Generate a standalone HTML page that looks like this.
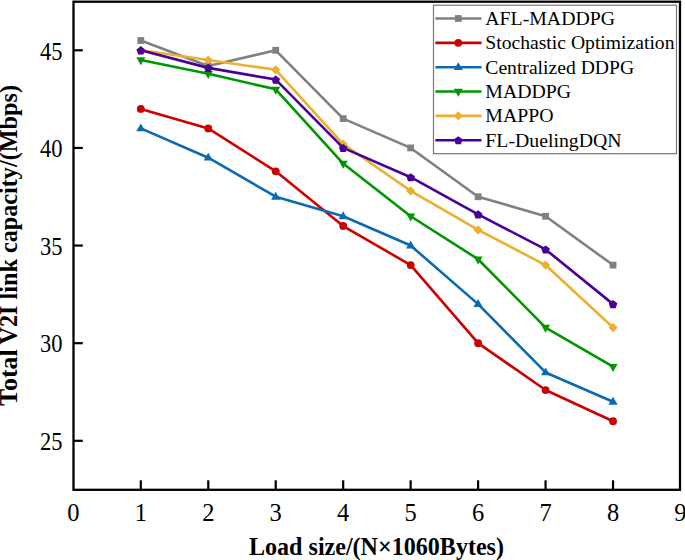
<!DOCTYPE html>
<html><head><meta charset="utf-8"><style>
html,body{margin:0;padding:0;background:#fff;}
body{width:685px;height:560px;overflow:hidden;}
svg{display:block;}
text{font-family:"Liberation Serif",serif;fill:#000;}
</style></head><body>
<svg width="685" height="560" viewBox="0 0 685 560">
<rect width="685" height="560" fill="#fff"/>
<polyline points="140.81,40.54 208.27,65.92 275.73,50.30 343.19,118.64 410.65,147.93 478.11,196.74 545.57,216.26 613.03,265.07" fill="none" stroke="#808080" stroke-width="2.6" stroke-linejoin="round" stroke-linecap="round"/>
<rect x="137.41" y="37.14" width="6.8" height="6.8" fill="#808080"/>
<rect x="204.87" y="62.52" width="6.8" height="6.8" fill="#808080"/>
<rect x="272.33" y="46.90" width="6.8" height="6.8" fill="#808080"/>
<rect x="339.79" y="115.24" width="6.8" height="6.8" fill="#808080"/>
<rect x="407.25" y="144.53" width="6.8" height="6.8" fill="#808080"/>
<rect x="474.71" y="193.34" width="6.8" height="6.8" fill="#808080"/>
<rect x="542.17" y="212.86" width="6.8" height="6.8" fill="#808080"/>
<rect x="609.63" y="261.68" width="6.8" height="6.8" fill="#808080"/>
<polyline points="140.81,108.88 208.27,128.40 275.73,171.36 343.19,226.02 410.65,265.07 478.11,343.18 545.57,390.03 613.03,421.27" fill="none" stroke="#cc0000" stroke-width="2.6" stroke-linejoin="round" stroke-linecap="round"/>
<circle cx="140.81" cy="108.88" r="3.9" fill="#cc0000"/>
<circle cx="208.27" cy="128.40" r="3.9" fill="#cc0000"/>
<circle cx="275.73" cy="171.36" r="3.9" fill="#cc0000"/>
<circle cx="343.19" cy="226.02" r="3.9" fill="#cc0000"/>
<circle cx="410.65" cy="265.07" r="3.9" fill="#cc0000"/>
<circle cx="478.11" cy="343.18" r="3.9" fill="#cc0000"/>
<circle cx="545.57" cy="390.03" r="3.9" fill="#cc0000"/>
<circle cx="613.03" cy="421.27" r="3.9" fill="#cc0000"/>
<polyline points="140.81,128.40 208.27,157.69 275.73,196.74 343.19,216.26 410.65,245.55 478.11,304.12 545.57,372.46 613.03,401.75" fill="none" stroke="#0c6ab2" stroke-width="2.6" stroke-linejoin="round" stroke-linecap="round"/>
<polygon points="140.81,123.40 136.21,131.30 145.41,131.30" fill="#0c6ab2"/>
<polygon points="208.27,152.69 203.67,160.59 212.87,160.59" fill="#0c6ab2"/>
<polygon points="275.73,191.74 271.13,199.64 280.33,199.64" fill="#0c6ab2"/>
<polygon points="343.19,211.26 338.59,219.16 347.79,219.16" fill="#0c6ab2"/>
<polygon points="410.65,240.55 406.05,248.45 415.25,248.45" fill="#0c6ab2"/>
<polygon points="478.11,299.12 473.51,307.02 482.71,307.02" fill="#0c6ab2"/>
<polygon points="545.57,367.46 540.97,375.36 550.17,375.36" fill="#0c6ab2"/>
<polygon points="613.03,396.75 608.43,404.65 617.63,404.65" fill="#0c6ab2"/>
<polyline points="140.81,60.06 208.27,73.73 275.73,89.35 343.19,163.54 410.65,216.26 478.11,259.22 545.57,327.55 613.03,366.60" fill="none" stroke="#009600" stroke-width="2.6" stroke-linejoin="round" stroke-linecap="round"/>
<polygon points="140.81,65.36 136.31,57.36 145.31,57.36" fill="#009600"/>
<polygon points="208.27,79.03 203.77,71.03 212.77,71.03" fill="#009600"/>
<polygon points="275.73,94.65 271.23,86.65 280.23,86.65" fill="#009600"/>
<polygon points="343.19,168.84 338.69,160.84 347.69,160.84" fill="#009600"/>
<polygon points="410.65,221.56 406.15,213.56 415.15,213.56" fill="#009600"/>
<polygon points="478.11,264.52 473.61,256.52 482.61,256.52" fill="#009600"/>
<polygon points="545.57,332.85 541.07,324.85 550.07,324.85" fill="#009600"/>
<polygon points="613.03,371.90 608.53,363.90 617.53,363.90" fill="#009600"/>
<polyline points="140.81,50.30 208.27,60.06 275.73,69.82 343.19,144.02 410.65,190.88 478.11,229.93 545.57,265.07 613.03,327.55" fill="none" stroke="#ecb030" stroke-width="2.6" stroke-linejoin="round" stroke-linecap="round"/>
<polygon points="140.81,45.70 145.41,50.30 140.81,54.90 136.21,50.30" fill="#ecb030"/>
<polygon points="208.27,55.46 212.87,60.06 208.27,64.66 203.67,60.06" fill="#ecb030"/>
<polygon points="275.73,65.22 280.33,69.82 275.73,74.42 271.13,69.82" fill="#ecb030"/>
<polygon points="343.19,139.42 347.79,144.02 343.19,148.62 338.59,144.02" fill="#ecb030"/>
<polygon points="410.65,186.28 415.25,190.88 410.65,195.48 406.05,190.88" fill="#ecb030"/>
<polygon points="478.11,225.33 482.71,229.93 478.11,234.53 473.51,229.93" fill="#ecb030"/>
<polygon points="545.57,260.47 550.17,265.07 545.57,269.68 540.97,265.07" fill="#ecb030"/>
<polygon points="613.03,322.95 617.63,327.55 613.03,332.15 608.43,327.55" fill="#ecb030"/>
<polyline points="140.81,50.30 208.27,67.87 275.73,79.59 343.19,147.93 410.65,177.21 478.11,214.31 545.57,249.46 613.03,304.12" fill="none" stroke="#4a0094" stroke-width="2.6" stroke-linejoin="round" stroke-linecap="round"/>
<polygon points="140.81,46.30 145.09,49.41 143.46,54.44 138.16,54.44 136.53,49.41" fill="#4a0094"/>
<polygon points="208.27,63.87 212.55,66.98 210.92,72.01 205.62,72.01 203.99,66.98" fill="#4a0094"/>
<polygon points="275.73,75.59 280.01,78.70 278.38,83.73 273.08,83.73 271.45,78.70" fill="#4a0094"/>
<polygon points="343.19,143.93 347.47,147.03 345.84,152.07 340.54,152.07 338.91,147.03" fill="#4a0094"/>
<polygon points="410.65,173.21 414.93,176.32 413.30,181.35 408.00,181.35 406.37,176.32" fill="#4a0094"/>
<polygon points="478.11,210.31 482.39,213.42 480.76,218.45 475.46,218.45 473.83,213.42" fill="#4a0094"/>
<polygon points="545.57,245.46 549.85,248.56 548.22,253.60 542.92,253.60 541.29,248.56" fill="#4a0094"/>
<polygon points="613.03,300.12 617.31,303.23 615.68,308.27 610.38,308.27 608.75,303.23" fill="#4a0094"/>
<rect x="73.5" y="1.7" width="606.5" height="488.1" fill="none" stroke="#000" stroke-width="2.3"/>
<line x1="140.81" y1="489.8" x2="140.81" y2="480.3" stroke="#000" stroke-width="2.2"/>
<line x1="208.27" y1="489.8" x2="208.27" y2="480.3" stroke="#000" stroke-width="2.2"/>
<line x1="275.73" y1="489.8" x2="275.73" y2="480.3" stroke="#000" stroke-width="2.2"/>
<line x1="343.19" y1="489.8" x2="343.19" y2="480.3" stroke="#000" stroke-width="2.2"/>
<line x1="410.65" y1="489.8" x2="410.65" y2="480.3" stroke="#000" stroke-width="2.2"/>
<line x1="478.11" y1="489.8" x2="478.11" y2="480.3" stroke="#000" stroke-width="2.2"/>
<line x1="545.57" y1="489.8" x2="545.57" y2="480.3" stroke="#000" stroke-width="2.2"/>
<line x1="613.03" y1="489.8" x2="613.03" y2="480.3" stroke="#000" stroke-width="2.2"/>
<line x1="73.5" y1="440.80" x2="82.8" y2="440.80" stroke="#000" stroke-width="2.2"/>
<line x1="73.5" y1="343.18" x2="82.8" y2="343.18" stroke="#000" stroke-width="2.2"/>
<line x1="73.5" y1="245.55" x2="82.8" y2="245.55" stroke="#000" stroke-width="2.2"/>
<line x1="73.5" y1="147.93" x2="82.8" y2="147.93" stroke="#000" stroke-width="2.2"/>
<line x1="73.5" y1="50.30" x2="82.8" y2="50.30" stroke="#000" stroke-width="2.2"/>
<text x="73.35" y="521.1" font-size="24.5" text-anchor="middle">0</text>
<text x="140.81" y="521.1" font-size="24.5" text-anchor="middle">1</text>
<text x="208.27" y="521.1" font-size="24.5" text-anchor="middle">2</text>
<text x="275.73" y="521.1" font-size="24.5" text-anchor="middle">3</text>
<text x="343.19" y="521.1" font-size="24.5" text-anchor="middle">4</text>
<text x="410.65" y="521.1" font-size="24.5" text-anchor="middle">5</text>
<text x="478.11" y="521.1" font-size="24.5" text-anchor="middle">6</text>
<text x="545.57" y="521.1" font-size="24.5" text-anchor="middle">7</text>
<text x="613.03" y="521.1" font-size="24.5" text-anchor="middle">8</text>
<text x="680.49" y="521.1" font-size="24.5" text-anchor="middle">9</text>
<text transform="translate(62.4,450.00) scale(0.9,1)" font-size="25" text-anchor="end">25</text>
<text transform="translate(62.4,352.38) scale(0.9,1)" font-size="25" text-anchor="end">30</text>
<text transform="translate(62.4,254.75) scale(0.9,1)" font-size="25" text-anchor="end">35</text>
<text transform="translate(62.4,157.12) scale(0.9,1)" font-size="25" text-anchor="end">40</text>
<text transform="translate(62.4,59.50) scale(0.9,1)" font-size="25" text-anchor="end">45</text>
<text x="249" y="554.7" font-size="24.5" font-weight="bold" textLength="255" lengthAdjust="spacingAndGlyphs">Load size/(N×1060Bytes)</text>
<text transform="translate(17.1,405.9) rotate(-90)" x="0" y="0" font-size="24.5" font-weight="bold" textLength="56.6" lengthAdjust="spacingAndGlyphs">Total</text>
<text transform="translate(17.1,344.6) rotate(-90)" x="0" y="0" font-size="24.5" font-weight="bold" textLength="259.6" lengthAdjust="spacingAndGlyphs">V2I link capacity/(Mbps)</text>
<rect x="433.5" y="5.2" width="243" height="148.5" fill="#fff" stroke="#777" stroke-width="1.2"/>
<line x1="435.4" y1="18.50" x2="481.5" y2="18.50" stroke="#808080" stroke-width="2.6"/>
<rect x="454.90" y="15.10" width="6.8" height="6.8" fill="#808080"/>
<text x="485.3" y="25.10" font-size="19.8">AFL-MADDPG</text>
<line x1="435.4" y1="42.84" x2="481.5" y2="42.84" stroke="#cc0000" stroke-width="2.6"/>
<circle cx="458.30" cy="42.84" r="3.9" fill="#cc0000"/>
<text x="485.3" y="49.44" font-size="19.8" textLength="189.2" lengthAdjust="spacingAndGlyphs">Stochastic Optimization</text>
<line x1="435.4" y1="67.18" x2="481.5" y2="67.18" stroke="#0c6ab2" stroke-width="2.6"/>
<polygon points="458.30,62.18 453.70,70.08 462.90,70.08" fill="#0c6ab2"/>
<text x="485.3" y="73.78" font-size="19.8" textLength="148.8" lengthAdjust="spacingAndGlyphs">Centralized DDPG</text>
<line x1="435.4" y1="91.52" x2="481.5" y2="91.52" stroke="#009600" stroke-width="2.6"/>
<polygon points="458.30,96.82 453.80,88.82 462.80,88.82" fill="#009600"/>
<text x="485.3" y="98.12" font-size="19.8">MADDPG</text>
<line x1="435.4" y1="115.86" x2="481.5" y2="115.86" stroke="#ecb030" stroke-width="2.6"/>
<polygon points="458.30,111.26 462.90,115.86 458.30,120.46 453.70,115.86" fill="#ecb030"/>
<text x="485.3" y="122.46" font-size="19.8">MAPPO</text>
<line x1="435.4" y1="140.20" x2="481.5" y2="140.20" stroke="#4a0094" stroke-width="2.6"/>
<polygon points="458.30,136.20 462.58,139.31 460.95,144.34 455.65,144.34 454.02,139.31" fill="#4a0094"/>
<text x="485.3" y="146.80" font-size="19.8">FL-DuelingDQN</text>
</svg></body></html>
